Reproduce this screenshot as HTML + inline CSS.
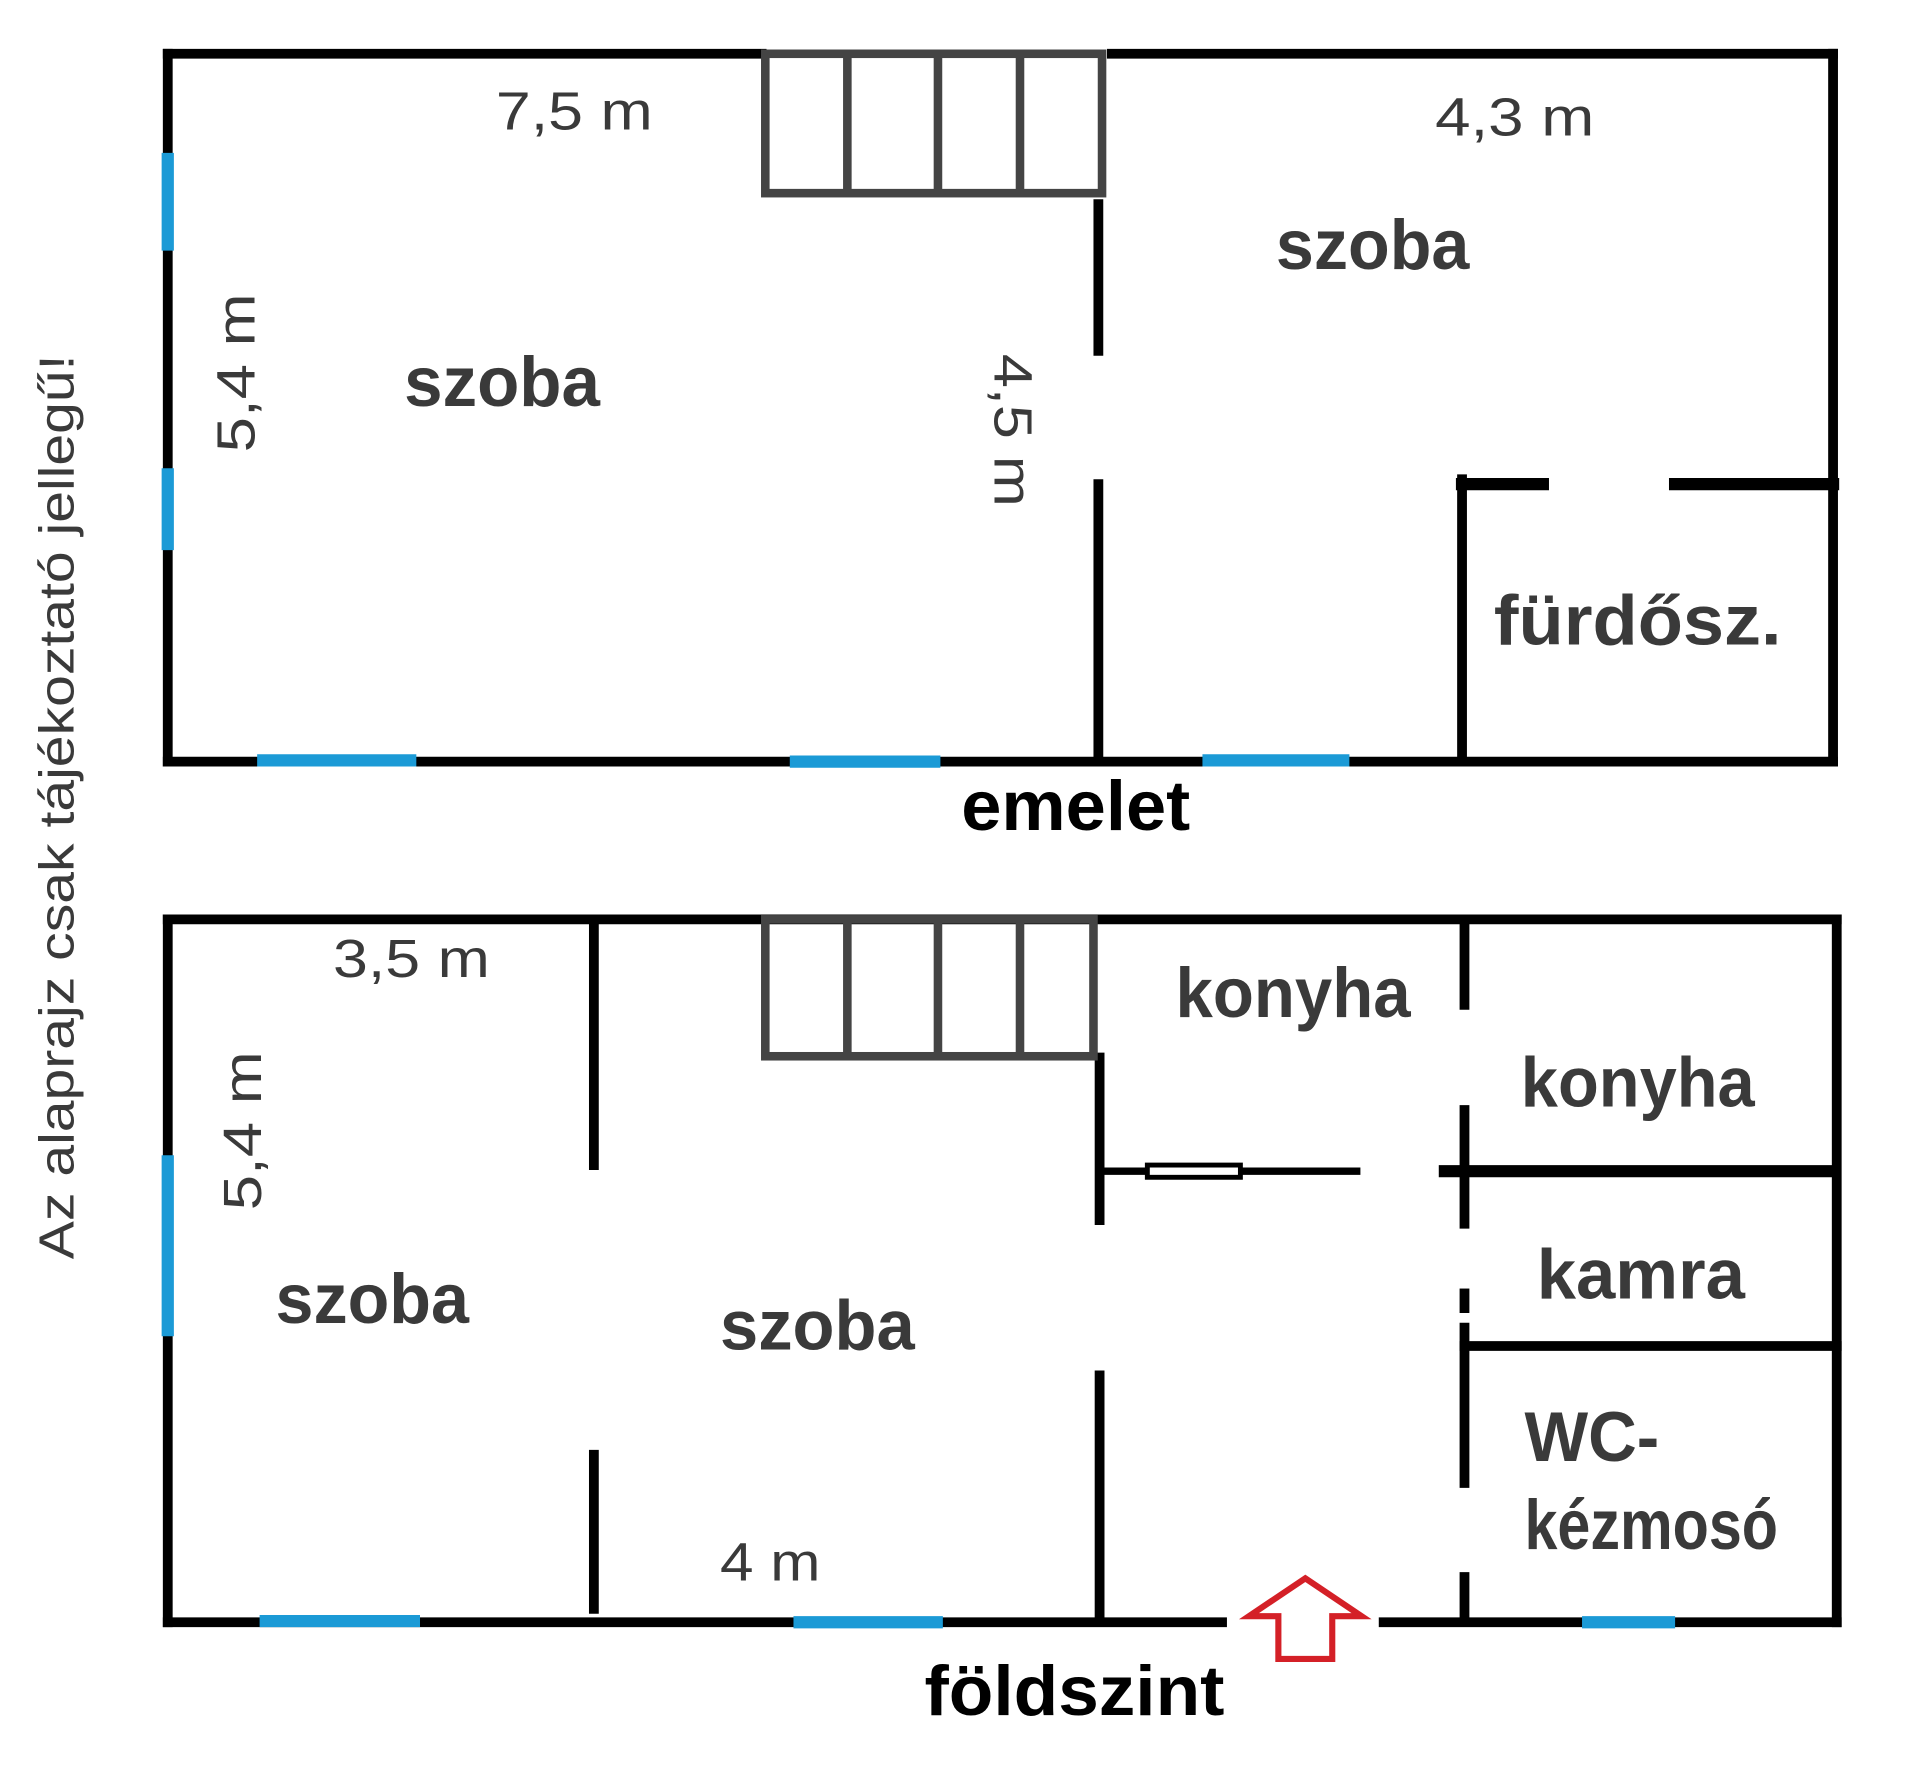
<!DOCTYPE html>
<html><head><meta charset="utf-8"><style>
html,body{margin:0;padding:0;background:#fff;}
svg{display:block}
text{font-family:"Liberation Sans",sans-serif;fill:#3a3a3a;}
</style></head><body>
<svg width="1920" height="1780" viewBox="0 0 1568 1456" preserveAspectRatio="none" xmlns="http://www.w3.org/2000/svg">
<rect width="1568" height="1456" fill="#fff"/>
<g stroke="#000" stroke-width="8" fill="none" stroke-linecap="square">
<!-- top plan -->
<line x1="137" y1="44" x2="622" y2="44"/>
<line x1="908" y1="44" x2="1497" y2="44"/>
<line x1="137" y1="44" x2="137" y2="623"/>
<line x1="1497" y1="44" x2="1497" y2="623"/>
<line x1="137" y1="623" x2="1497" y2="623"/>
<line x1="897" y1="167" x2="897" y2="287"/>
<line x1="897" y1="396" x2="897" y2="618"/>
<line x1="1194" y1="392" x2="1194" y2="620"/>
<line x1="1194" y1="396" x2="1260" y2="396" stroke-width="10"/>
<line x1="1368" y1="396" x2="1497" y2="396" stroke-width="10"/>
<!-- bottom plan -->
<line x1="137" y1="752" x2="1500" y2="752"/>
<line x1="137" y1="752" x2="137" y2="1327"/>
<line x1="1500" y1="752" x2="1500" y2="1327"/>
<line x1="137" y1="1327" x2="998" y2="1327"/>
<line x1="1130" y1="1327" x2="1500" y2="1327"/>
<line x1="485" y1="752" x2="485" y2="953"/>
<line x1="485" y1="1190" x2="485" y2="1316"/>
<line x1="898" y1="865" x2="898" y2="998"/>
<line x1="898" y1="1125" x2="898" y2="1325"/>
<line x1="1196" y1="752" x2="1196" y2="822"/>
<line x1="1196" y1="908" x2="1196" y2="1001"/>
<line x1="1196" y1="1058" x2="1196" y2="1070"/>
<line x1="1196" y1="1086" x2="1196" y2="1213"/>
<line x1="1196" y1="1290" x2="1196" y2="1325"/>
<line x1="900" y1="958" x2="1108" y2="958" stroke-width="6"/>
<line x1="1180" y1="958" x2="1497" y2="958" stroke-width="10"/>
<line x1="1196" y1="1101" x2="1500" y2="1101" stroke-width="8"/>
</g>
<rect x="937" y="953" width="76" height="10" fill="#fff" stroke="#000" stroke-width="4"/>
<!-- stairs -->
<g stroke="#444" stroke-width="7" fill="none">
<rect x="625" y="44" width="275" height="114"/>
<line x1="692" y1="44" x2="692" y2="158"/>
<line x1="766" y1="44" x2="766" y2="158"/>
<line x1="833" y1="44" x2="833" y2="158"/>
<rect x="625" y="752" width="268" height="112"/>
<line x1="692" y1="752" x2="692" y2="864"/>
<line x1="766" y1="752" x2="766" y2="864"/>
<line x1="833" y1="752" x2="833" y2="864"/>
</g>
<!-- windows -->
<g stroke="#1b9ad6" stroke-width="10">
<line x1="137" y1="125" x2="137" y2="205"/>
<line x1="137" y1="383" x2="137" y2="450"/>
<line x1="210" y1="622" x2="340" y2="622"/>
<line x1="645" y1="623" x2="768" y2="623"/>
<line x1="982" y1="622" x2="1102" y2="622"/>
<line x1="137" y1="945" x2="137" y2="1093"/>
<line x1="212" y1="1326" x2="343" y2="1326"/>
<line x1="648" y1="1327" x2="770" y2="1327"/>
<line x1="1292" y1="1327" x2="1368" y2="1327"/>
</g>
<!-- arrow -->
<path d="M1066 1291 L1112 1322 L1088 1322 L1088 1357 L1044 1357 L1044 1322 L1020 1322 Z" fill="#fff" stroke="#d42027" stroke-width="5" stroke-linejoin="miter"/>
<!-- labels -->
<g font-size="44">
<text x="405" y="106" textLength="128" lengthAdjust="spacingAndGlyphs">7,5 m</text>
<text x="1172" y="111" textLength="130" lengthAdjust="spacingAndGlyphs">4,3 m</text>
<text x="272" y="799" textLength="128" lengthAdjust="spacingAndGlyphs">3,5 m</text>
<text x="588" y="1293" textLength="82" lengthAdjust="spacingAndGlyphs">4 m</text>
<text transform="translate(208,305) rotate(-90)" text-anchor="middle" textLength="130" lengthAdjust="spacingAndGlyphs">5,4 m</text>
<text transform="translate(812,352) rotate(90)" text-anchor="middle" textLength="125" lengthAdjust="spacingAndGlyphs">4,5 m</text>
<text transform="translate(213,925) rotate(-90)" text-anchor="middle" textLength="130" lengthAdjust="spacingAndGlyphs">5,4 m</text>
</g>
<text transform="translate(60,660) rotate(-90)" text-anchor="middle" font-size="40" textLength="740" lengthAdjust="spacingAndGlyphs">Az alaprajz csak tájékoztató jellegű!</text>
<g font-size="58" font-weight="bold">
<text x="330" y="332" textLength="160" lengthAdjust="spacingAndGlyphs">szoba</text>
<text x="1042" y="220" textLength="158" lengthAdjust="spacingAndGlyphs">szoba</text>
<text x="1220" y="527" textLength="235" lengthAdjust="spacingAndGlyphs">fürdősz.</text>
<text x="960" y="832" textLength="192" lengthAdjust="spacingAndGlyphs">konyha</text>
<text x="1242" y="905" textLength="191" lengthAdjust="spacingAndGlyphs">konyha</text>
<text x="1255" y="1062" textLength="170" lengthAdjust="spacingAndGlyphs">kamra</text>
<text x="1245" y="1195" textLength="110" lengthAdjust="spacingAndGlyphs">WC-</text>
<text x="1245" y="1267" textLength="207" lengthAdjust="spacingAndGlyphs">kézmosó</text>
<text x="225" y="1082" textLength="158" lengthAdjust="spacingAndGlyphs">szoba</text>
<text x="588" y="1104" textLength="159" lengthAdjust="spacingAndGlyphs">szoba</text>
<text x="785" y="679" textLength="187" lengthAdjust="spacingAndGlyphs" style="fill:#000">emelet</text>
<text x="755" y="1403" textLength="245" lengthAdjust="spacingAndGlyphs" style="fill:#000">földszint</text>
</g>
</svg>
</body></html>
